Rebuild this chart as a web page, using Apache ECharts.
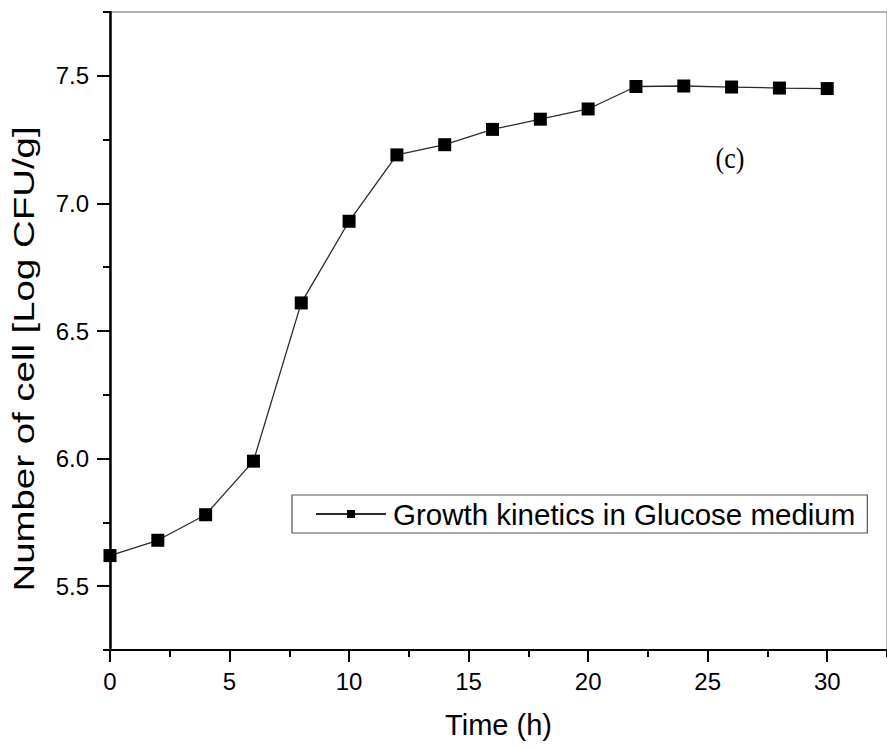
<!DOCTYPE html>
<html>
<head>
<meta charset="utf-8">
<script src="https://cdn.jsdelivr.net/npm/echarts@6/dist/echarts.min.js"></script>
<style>
html,body{margin:0;padding:0;background:#fff;}
#chart{width:887px;height:748px;}
</style>
</head>
<body>
<div id="chart"></div>
<script>
// Data
const timeHours = [0, 2, 4, 6, 8, 10, 12, 14, 16, 18, 20, 22, 24, 26, 28, 30];
const logCFU = [5.62, 5.68, 5.78, 5.99, 6.61, 6.93, 7.19, 7.23, 7.29, 7.33, 7.37, 7.458, 7.46, 7.456, 7.452, 7.45];
const seriesName = 'Growth kinetics in Glucose medium';
const xMajorTicks = [0, 5, 10, 15, 20, 25, 30];
const yMajorTicks = [5.5, 6.0, 6.5, 7.0, 7.5];
const xTitle = 'Time (h)';
const yTitle = 'Number of cell [Log CFU/g]';
const panelLabel = '(c)';

const FONT = '"Liberation Sans", Arial, sans-serif';
const chart = echarts.init(document.getElementById('chart'), null, {renderer: 'svg'});

const points = timeHours.map((t, i) => [t, logCFU[i]]);

const option = {
  backgroundColor: '#ffffff',
  animation: false,
  grid: {
    left: 110, top: 12, right: -6, bottom: 98,
    show: true, borderColor: '#9a9a9a', borderWidth: 1.5, backgroundColor: 'transparent'
  },
  xAxis: [
    {
      type: 'value', min: 0, max: 32.5, interval: 2.5, position: 'bottom',
      axisLine: {show: true, onZero: false, lineStyle: {color: '#000', width: 2}},
      axisTick: {show: true, inside: false, length: 7, lineStyle: {color: '#000', width: 2}},
      axisLabel: {show: false},
      splitLine: {show: false}
    },
    {
      type: 'value', min: 0, max: 32.5, interval: 5, position: 'bottom',
      axisLine: {show: false, onZero: false},
      axisTick: {show: true, inside: false, length: 12, customValues: xMajorTicks, lineStyle: {color: '#000', width: 2}},
      axisLabel: {show: true, customValues: xMajorTicks, margin: 19, color: '#000', fontSize: 24, fontFamily: FONT},
      splitLine: {show: false},
      name: xTitle, nameLocation: 'middle', nameGap: 60,
      nameTextStyle: {color: '#000', fontSize: 29, fontFamily: FONT}
    }
  ],
  yAxis: [
    {
      type: 'value', min: 5.25, max: 7.75, interval: 0.25, position: 'left',
      axisLine: {show: true, onZero: false, lineStyle: {color: '#000', width: 2.5}},
      axisTick: {show: true, inside: false, length: 7, lineStyle: {color: '#000', width: 2}},
      axisLabel: {show: false},
      splitLine: {show: false}
    },
    {
      type: 'value', min: 5.25, max: 7.75, interval: 0.25, position: 'left',
      axisLine: {show: false, onZero: false},
      axisTick: {show: true, inside: false, length: 13, customValues: yMajorTicks, lineStyle: {color: '#000', width: 2}},
      axisLabel: {show: true, customValues: yMajorTicks, margin: 21, color: '#000', fontSize: 24, fontFamily: FONT,
        formatter: v => v.toFixed(1)},
      splitLine: {show: false}
    }
  ],
  legend: {
    show: true, left: 292, top: 495,
    data: [seriesName],
    borderColor: '#555', borderWidth: 1.2, backgroundColor: '#fff',
    padding: [3, 12, 3, 23],
    itemWidth: 70, itemHeight: 10, itemGap: 0,
    textStyle: {color: '#000', fontSize: 29.5, lineHeight: 32, fontFamily: FONT, padding: [0, 0, 0, 2]}
  },
  series: [
    {
      name: seriesName, type: 'line', xAxisIndex: 0, yAxisIndex: 0,
      data: points,
      symbol: 'rect', symbolSize: 13,
      itemStyle: {color: '#000'},
      lineStyle: {color: '#2a2a2a', width: 1.3},
      z: 5
    }
  ],
  graphic: [
    {
      type: 'text', x: 730, y: 158, scaleY: 1.15,
      style: {text: panelLabel, fill: '#000', align: 'center', verticalAlign: 'middle',
        font: '26px "Liberation Serif", "Times New Roman", serif'}
    },
    {
      type: 'text', x: 23, y: 359, rotation: Math.PI / 2, scaleX: 1.2, scaleY: 0.95,
      style: {text: yTitle, fill: '#000', align: 'center', verticalAlign: 'middle',
        font: '32px "Liberation Sans", Arial, sans-serif'}
    }
  ]
};
chart.setOption(option);
</script>
</body>
</html>
